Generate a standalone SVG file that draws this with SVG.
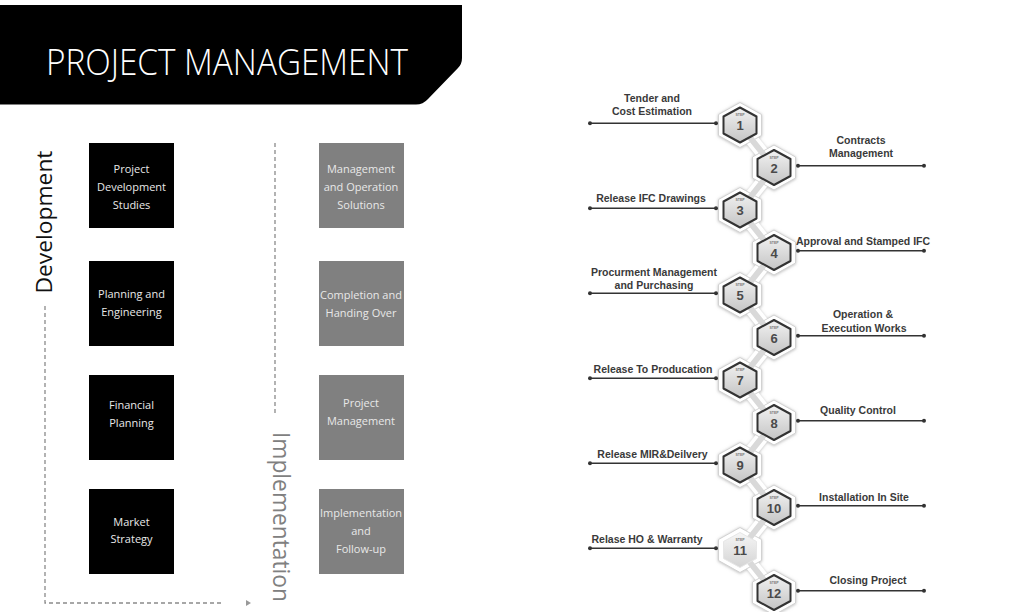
<svg xmlns="http://www.w3.org/2000/svg" xmlns:xlink="http://www.w3.org/1999/xlink" width="1030" height="612" viewBox="0 0 1030 612">
<style>
.box{fill:#000}
.gbox{fill:#808080}
.bt{font-family:"Open Sans","Segoe UI",sans-serif;font-size:11px;fill:#e8e8e8;text-anchor:middle}
.lbl{font-family:"Liberation Sans",Arial,sans-serif;font-weight:bold;font-size:10.5px;fill:#3a3a3a;text-anchor:middle}
.num{font-family:"Liberation Sans",Arial,sans-serif;font-weight:bold;font-size:13px;fill:#4a4a4a;text-anchor:middle}
.stp{font-family:"Liberation Sans",Arial,sans-serif;font-weight:bold;font-size:3.5px;fill:#777;text-anchor:middle}
.lead{stroke:#333;stroke-width:1.5;fill:none}
.dot{fill:#333}
.dash{stroke:#8a8a8a;stroke-width:1.3;stroke-dasharray:4 3;fill:none}
.core{fill:url(#hg);stroke:#333;stroke-width:2;stroke-linejoin:round}
.halo{fill:#fff;stroke:#d2d2d2;stroke-width:1;stroke-linejoin:round}
</style>
<defs>
<linearGradient id="hg" x1="0" y1="0" x2="0" y2="1">
<stop offset="0" stop-color="#f2f2f2"/>
<stop offset="1" stop-color="#c4c4c4"/>
</linearGradient>
<linearGradient id="hg2" x1="0" y1="0" x2="0" y2="1">
<stop offset="0" stop-color="#f6f6f6"/>
<stop offset="1" stop-color="#d4d4d4"/>
</linearGradient>
<filter id="sh" x="-20%" y="-5%" width="140%" height="110%">
<feDropShadow dx="0" dy="0.5" stdDeviation="1.5" flood-color="#888" flood-opacity="0.6"/>
</filter>
<polygon id="hx" points="0,-17.5 16.5,-8.5 16.5,8.5 0,17.5 -16.5,8.5 -16.5,-8.5"/>
<polygon id="hh" points="0,-22.5 21.5,-10.5 21.5,10.5 0,22.5 -21.5,10.5 -21.5,-10.5"/>
</defs>

<g id="title">
<path d="M0,5 H462 V58 Q462,64 458,68 L428,99 Q423,104.5 416,104.5 H0 Z" fill="#000"/>
<text x="46" y="75" font-family="'Open Sans','Segoe UI',sans-serif" font-weight="300" font-size="37" fill="#fff" textLength="362" lengthAdjust="spacingAndGlyphs">PROJECT MANAGEMENT</text>
</g>

<g id="axis-development">
<text transform="translate(52,222) rotate(-90)" font-family="'Open Sans','Segoe UI',sans-serif" font-weight="400" font-size="22.5" fill="#111" text-anchor="middle" textLength="143" lengthAdjust="spacingAndGlyphs">Development</text>
<path class="dash" d="M45,306 V603 H224"/>
<polygon points="246,600 251,603 246,606" fill="#999"/>
</g>

<g id="axis-implementation">
<path class="dash" d="M275,143 V415"/>
<text transform="translate(273,517) rotate(90)" font-family="'Open Sans','Segoe UI',sans-serif" font-weight="400" font-size="24" fill="#808080" text-anchor="middle" textLength="170" lengthAdjust="spacingAndGlyphs">Implementation</text>
</g>

<g id="dev1"><rect class="box" x="89" y="143" width="85" height="85"/>
<text class="bt" x="131.5" y="173">Project</text><text class="bt" x="131.5" y="191">Development</text><text class="bt" x="131.5" y="209">Studies</text></g>
<g id="dev2"><rect class="box" x="89" y="261" width="85" height="85"/>
<text class="bt" x="131.5" y="297.5">Planning and</text><text class="bt" x="131.5" y="315.5">Engineering</text></g>
<g id="dev3"><rect class="box" x="89" y="375" width="85" height="85"/>
<text class="bt" x="131.5" y="408.5">Financial</text><text class="bt" x="131.5" y="426.5">Planning</text></g>
<g id="dev4"><rect class="box" x="89" y="489" width="85" height="85"/>
<text class="bt" x="131.5" y="525.5">Market</text><text class="bt" x="131.5" y="543">Strategy</text></g>

<g id="imp1"><rect class="gbox" x="319" y="143" width="85" height="85"/>
<text class="bt" x="361" y="172.5">Management</text><text class="bt" x="361" y="190.5">and Operation</text><text class="bt" x="361" y="208.5">Solutions</text></g>
<g id="imp2"><rect class="gbox" x="319" y="261" width="85" height="85"/>
<text class="bt" x="361" y="299">Completion and</text><text class="bt" x="361" y="317">Handing Over</text></g>
<g id="imp3"><rect class="gbox" x="319" y="375" width="85" height="85"/>
<text class="bt" x="361" y="406.5">Project</text><text class="bt" x="361" y="424.5">Management</text></g>
<g id="imp4"><rect class="gbox" x="319" y="489" width="85" height="85"/>
<text class="bt" x="361" y="517">Implementation</text><text class="bt" x="361" y="535">and</text><text class="bt" x="361" y="553">Follow-up</text></g>

<g id="connectors">
<g filter="url(#sh)">
<path d="M740,125 L774,167.5 L740,210 L774,252.5 L740,295 L774,337.5 L740,380 L774,422.5 L740,465 L774,507.5 L740,550 L774,592.5" fill="none" stroke="#fff" stroke-width="13" stroke-linejoin="round"/>
<use href="#hh" class="halo" x="740" y="125"/><use href="#hh" class="halo" x="774" y="167.5"/>
<use href="#hh" class="halo" x="740" y="210"/><use href="#hh" class="halo" x="774" y="252.5"/>
<use href="#hh" class="halo" x="740" y="295"/><use href="#hh" class="halo" x="774" y="337.5"/>
<use href="#hh" class="halo" x="740" y="380"/><use href="#hh" class="halo" x="774" y="422.5"/>
<use href="#hh" class="halo" x="740" y="465"/><use href="#hh" class="halo" x="774" y="507.5"/>
<use href="#hh" class="halo" x="740" y="550"/><use href="#hh" class="halo" x="774" y="592.5"/>
</g>
<path d="M740,125 L774,167.5 L740,210 L774,252.5 L740,295 L774,337.5 L740,380 L774,422.5 L740,465 L774,507.5 L740,550 L774,592.5" fill="none" stroke="#d9d9d9" stroke-width="6" stroke-linejoin="round"/>
<path class="lead" d="M590,123.3 H716 M798,165.8 H924 M590,208.3 H716 M798,250.8 H924 M590,293.3 H716 M798,335.8 H924 M590,378.3 H716 M798,420.8 H924 M590,463.3 H716 M798,505.8 H924 M590,548.3 H716 M798,590.8 H924"/>
<g class="dot">
<circle cx="590" cy="123.3" r="2"/><circle cx="716" cy="123.3" r="2"/>
<circle cx="798" cy="165.8" r="2"/><circle cx="924" cy="165.8" r="2"/>
<circle cx="590" cy="208.3" r="2"/><circle cx="716" cy="208.3" r="2"/>
<circle cx="798" cy="250.8" r="2"/><circle cx="924" cy="250.8" r="2"/>
<circle cx="590" cy="293.3" r="2"/><circle cx="716" cy="293.3" r="2"/>
<circle cx="798" cy="335.8" r="2"/><circle cx="924" cy="335.8" r="2"/>
<circle cx="590" cy="378.3" r="2"/><circle cx="716" cy="378.3" r="2"/>
<circle cx="798" cy="420.8" r="2"/><circle cx="924" cy="420.8" r="2"/>
<circle cx="590" cy="463.3" r="2"/><circle cx="716" cy="463.3" r="2"/>
<circle cx="798" cy="505.8" r="2"/><circle cx="924" cy="505.8" r="2"/>
<circle cx="590" cy="548.3" r="2"/><circle cx="716" cy="548.3" r="2"/>
<circle cx="798" cy="590.8" r="2"/><circle cx="924" cy="590.8" r="2"/>
</g>
</g>

<g id="step1"><use href="#hx" class="core" x="740" y="125"/><text class="stp" x="740" y="116">STEP</text><text class="num" x="740" y="130">1</text>
<text class="lbl" x="652" y="102">Tender and</text><text class="lbl" x="652" y="115">Cost Estimation</text></g>
<g id="step2"><use href="#hx" class="core" x="774" y="167.5"/><text class="stp" x="774" y="158.5">STEP</text><text class="num" x="774" y="172.5">2</text>
<text class="lbl" x="861" y="144">Contracts</text><text class="lbl" x="861" y="157">Management</text></g>
<g id="step3"><use href="#hx" class="core" x="740" y="210"/><text class="stp" x="740" y="201">STEP</text><text class="num" x="740" y="215">3</text>
<text class="lbl" x="651" y="201.5">Release IFC Drawings</text></g>
<g id="step4"><use href="#hx" class="core" x="774" y="252.5"/><text class="stp" x="774" y="243.5">STEP</text><text class="num" x="774" y="257.5">4</text>
<text class="lbl" x="863" y="244.5">Approval and Stamped IFC</text></g>
<g id="step5"><use href="#hx" class="core" x="740" y="295"/><text class="stp" x="740" y="286">STEP</text><text class="num" x="740" y="300">5</text>
<text class="lbl" x="654" y="276">Procurment Management</text><text class="lbl" x="654" y="289">and Purchasing</text></g>
<g id="step6"><use href="#hx" class="core" x="774" y="337.5"/><text class="stp" x="774" y="328.5">STEP</text><text class="num" x="774" y="342.5">6</text>
<text class="lbl" x="863" y="318">Operation &amp;</text><text class="lbl" x="864" y="332">Execution Works</text></g>
<g id="step7"><use href="#hx" class="core" x="740" y="380"/><text class="stp" x="740" y="371">STEP</text><text class="num" x="740" y="385">7</text>
<text class="lbl" x="653" y="373">Release To Producation</text></g>
<g id="step8"><use href="#hx" class="core" x="774" y="422.5"/><text class="stp" x="774" y="413.5">STEP</text><text class="num" x="774" y="427.5">8</text>
<text class="lbl" x="858" y="414">Quality Control</text></g>
<g id="step9"><use href="#hx" class="core" x="740" y="465"/><text class="stp" x="740" y="456">STEP</text><text class="num" x="740" y="470">9</text>
<text class="lbl" x="652.5" y="458">Release MIR&amp;Deilvery</text></g>
<g id="step10"><use href="#hx" class="core" x="774" y="507.5"/><text class="stp" x="774" y="498.5">STEP</text><text class="num" x="774" y="512.5">10</text>
<text class="lbl" x="864" y="500.5">Installation In Site</text></g>
<g id="step11"><use href="#hx" x="740" y="550" fill="url(#hg2)" stroke="#e6e6e6" stroke-width="1" stroke-linejoin="round"/><text class="stp" x="740" y="541">STEP</text><text class="num" x="740" y="555">11</text>
<text class="lbl" x="647" y="543">Relase HO &amp; Warranty</text></g>
<g id="step12"><use href="#hx" class="core" x="774" y="592.5"/><text class="stp" x="774" y="583.5">STEP</text><text class="num" x="774" y="597.5">12</text>
<text class="lbl" x="868" y="584">Closing Project</text></g>
</svg>
